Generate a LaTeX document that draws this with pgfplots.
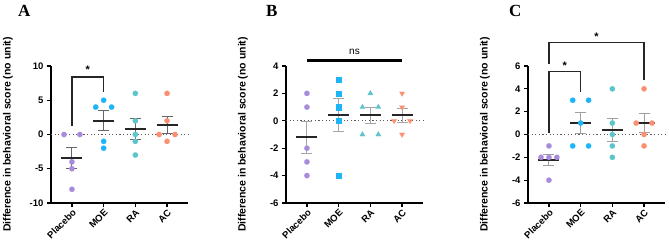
\documentclass[border=0pt]{standalone}
\usepackage{pgfplots}
\pgfplotsset{compat=1.18}
\usepackage{fontspec}
\setmainfont{Liberation Sans}
\newfontfamily\serifb{Liberation Serif}
\definecolor{cpur}{HTML}{A98BDC}
\definecolor{cblu}{HTML}{1EB4F8}
\definecolor{ctea}{HTML}{5CC4CC}
\definecolor{cora}{HTML}{FA9070}
\pgfplotsset{
  prism/.style={
    scale only axis, width=137pt, height=137pt,
    anchor=south west, clip=false,
    axis lines=left, axis line style={-, line width=1.2pt, black},
    xmin=-0.66, xmax=3.66,
    xtick={0,1,2,3}, xticklabels={Placebo,MOE,RA,AC},
    tick style={black, line width=1.2pt},
    tick align=outside, major tick length=4pt,
    /pgf/number format/assume math mode=true,
    ticklabel style={font=\fontsize{9.5}{10}\selectfont\bfseries},
    xticklabel style={rotate=45, anchor=north east, inner sep=1pt},
    ylabel={Difference in behavioral score (no unit)},
    ylabel style={at={(axis description cs:-0.314,0.5)}, anchor=center, font=\fontsize{10.5}{11}\selectfont\bfseries},
  },
  pts/.style={only marks, mark=*, mark size=2.7pt, color=#1, mark options={solid, fill=#1, draw=#1, line width=0.1pt}},
  zline/.style={gray!70!black, line width=1pt, dash pattern=on 1.2pt off 2.4pt},
  mline/.style={black!85, line width=2pt},
  ebar/.style={draw=none, mark=none, forget plot, error bars/.cd, y dir=both, y explicit,
    error bar style={#1, line width=1pt},
    error mark options={rotate=90, mark size=5.5pt, #1, line width=1pt}},
}
\begin{document}
\begin{tikzpicture}
\useasboundingbox (0,0) rectangle (669pt,-249pt);
\node[font=\fontsize{17}{17}\selectfont\serifb\bfseries, anchor=north west, inner sep=0pt] at (18pt,-5pt) {A};
\node[font=\fontsize{17}{17}\selectfont\serifb\bfseries, anchor=north west, inner sep=0pt] at (266pt,-5pt) {B};
\node[font=\fontsize{17}{17}\selectfont\serifb\bfseries, anchor=north west, inner sep=0pt] at (509pt,-5pt) {C};
% ---------------- A
\begin{axis}[prism, at={(51pt,-203pt)}, ymin=-10, ymax=10, ytick={-10,-5,0,5,10}]
\addplot[zline] coordinates {(-0.66,0) (3.66,0)};
\addplot[pts=cpur] coordinates {(-0.25,0) (0.25,0) (0,-4) (0,-5) (0,-8)};
\addplot[pts=cblu] coordinates {(1,5) (0.75,4) (1.25,4) (1,-1) (1,-2)};
\addplot[pts=ctea] coordinates {(2,6) (2,2) (2,0) (2,-1) (2,-3)};
\addplot[pts=cora] coordinates {(3,6) (3,2) (2.75,0) (3.25,0) (3,-1)};
\addplot[ebar=gray!80!black] coordinates {(0,-3.4) +- (0,1.536) (1,2) +- (0,1.449) (2,0.8) +- (0,1.530) (3,1.4) +- (0,1.249)};
\addplot[mline] coordinates {(-0.33,-3.4) (0.33,-3.4)};
\addplot[mline] coordinates {(0.67,2) (1.33,2)};
\addplot[mline] coordinates {(1.67,0.8) (2.33,0.8)};
\addplot[mline] coordinates {(2.67,1.4) (3.33,1.4)};
\draw[line width=1.4pt, black!85] (axis cs:0,1.2) |- (axis cs:1,8.4) -- (axis cs:1,6.2);
\node[font=\fontsize{11}{11}\selectfont\bfseries] at (axis cs:0.5,9.4) {*};
\end{axis}
% ---------------- B
\begin{axis}[prism, at={(286pt,-203pt)}, ymin=-6, ymax=4, ytick={-6,-4,-2,0,2,4}]
\addplot[zline] coordinates {(-0.66,0) (3.66,0)};
\addplot[pts=cpur] coordinates {(0,2) (0,1) (0,-2) (0,-3) (0,-4)};
\addplot[only marks, color=cblu, mark=square*, mark size=2.6pt, mark options={solid, fill=cblu, draw=cblu, line width=0.1pt}] coordinates {(1,3) (1,2) (1,1) (1,0) (1,-4)};
\addplot[only marks, color=ctea, mark=triangle*, mark size=3.1pt, mark options={solid, fill=ctea, draw=ctea, line width=0.1pt}] coordinates {(2,2) (1.75,1) (2.25,1) (1.75,-1) (2.25,-1)};
\addplot[only marks, color=cora, mark=triangle*, mark size=3.1pt, mark options={solid, fill=cora, draw=cora, line width=0.1pt, rotate=180}] coordinates {(3,2) (3,1) (2.75,0) (3.25,0) (3,-1)};
\addplot[ebar=gray!70] coordinates {(0,-1.2) +- (0,1.158) (1,0.4) +- (0,1.208) (2,0.4) +- (0,0.6) (3,0.4) +- (0,0.51)};
\addplot[mline] coordinates {(-0.33,-1.2) (0.33,-1.2)};
\addplot[mline] coordinates {(0.67,0.4) (1.33,0.4)};
\addplot[mline] coordinates {(1.67,0.4) (2.33,0.4)};
\addplot[mline] coordinates {(2.67,0.4) (3.33,0.4)};
\draw[line width=2.5pt, black] (axis cs:0,4.4) -- (axis cs:3,4.4);
\node[font=\fontsize{10}{10}\selectfont] at (axis cs:1.5,5.05) {ns};
\end{axis}
% ---------------- C
\begin{axis}[prism, at={(528pt,-203pt)}, ymin=-6, ymax=6, ytick={-6,-4,-2,0,2,4,6}]
\addplot[zline] coordinates {(-0.66,0) (3.66,0)};
\addplot[pts=cpur] coordinates {(0,-1) (-0.25,-2) (0,-2) (0.25,-2) (0,-4)};
\addplot[pts=cblu] coordinates {(0.75,3) (1.25,3) (1,1) (0.75,-1) (1.25,-1)};
\addplot[pts=ctea] coordinates {(2,4) (2,1) (2,0) (2,-1) (2,-2)};
\addplot[pts=cora] coordinates {(3,4) (2.75,1) (3.25,1) (3,0) (3,-1)};
\addplot[ebar=gray!75] coordinates {(0,-2.2) +- (0,0.49) (1,1) +- (0,0.894) (2,0.4) +- (0,1.03) (3,1) +- (0,0.837)};
\addplot[mline] coordinates {(-0.33,-2.2) (0.33,-2.2)};
\addplot[mline] coordinates {(0.67,1) (1.33,1)};
\addplot[mline] coordinates {(1.67,0.4) (2.33,0.4)};
\addplot[mline] coordinates {(2.67,1) (3.33,1)};
\draw[line width=1.4pt, black!85] (axis cs:0,0.15) |- (axis cs:1,5.5) -- (axis cs:1,3.75);
\node[font=\fontsize{11}{11}\selectfont\bfseries] at (axis cs:0.5,6.0) {*};
\draw[line width=1.4pt, black!85] (axis cs:0,6.2) |- (axis cs:3,8.05) -- (axis cs:3,4.75);
\node[font=\fontsize{11}{11}\selectfont\bfseries] at (axis cs:1.5,8.6) {*};
\end{axis}
\end{tikzpicture}
\end{document}
